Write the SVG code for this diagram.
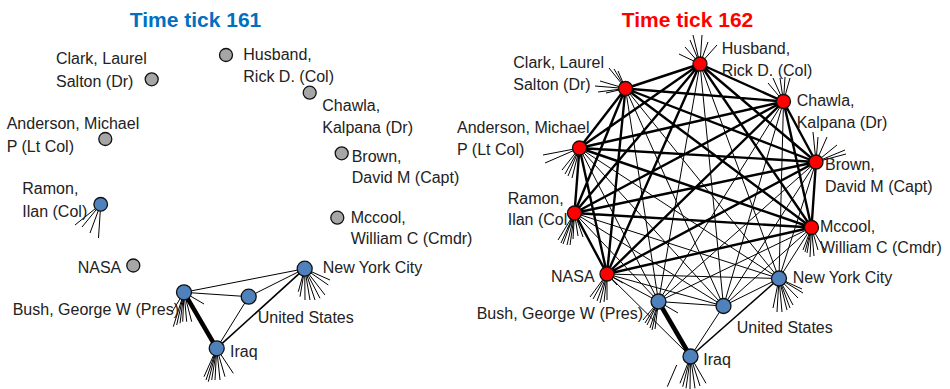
<svg xmlns="http://www.w3.org/2000/svg" width="950" height="389" viewBox="0 0 950 389">
<style>
.bg{fill:#ffffff}
.title{font-family:"Liberation Sans",Arial,sans-serif;font-size:21px;font-weight:bold;text-anchor:middle}
.lbl{font-family:"Liberation Sans",Arial,sans-serif;font-size:16px;fill:#222222}
.n{stroke:#111111;stroke-width:1.3}
.gray{fill:#A6A6A6}
.blue{fill:#4F81BD}
.red{fill:#FF0000}
.thin{stroke:#000;stroke-width:1;fill:none}
.med{stroke:#000;stroke-width:1.6;fill:none}
.thick{stroke:#000;stroke-width:2.4;fill:none}
.heavy{stroke:#000;stroke-width:4.5;fill:none}
.stub{stroke:#000;stroke-width:1;fill:none}
</style>
<rect class="bg" x="0" y="0" width="950" height="389"/>
<text class="title" x="195.5" y="27" fill="#0070C0">Time tick 161</text>
<text class="title" x="687.5" y="27" fill="#FF0000">Time tick 162</text>

<g id="connectors">
  <!-- left panel edges -->
  <g id="left-edges">
    <line class="thin" x1="184" y1="292.3" x2="304.7" y2="268.7"/>
    <line class="thin" x1="184" y1="292.3" x2="248.7" y2="296.7"/>
    <line class="thin" x1="248.7" y1="296.7" x2="304.7" y2="268.7"/>
    <line class="thin" x1="248.7" y1="296.7" x2="216.7" y2="348.3"/>
    <line class="med" x1="304.7" y1="268.7" x2="216.7" y2="348.3"/>
    <line class="heavy" x1="184" y1="292.3" x2="216.7" y2="348.3"/>
  </g>
  <g id="left-stubs">
    <path class="stub" d="M100.7,204.3L75,225M100.7,204.3L82,227M100.7,204.3L90,233M100.7,204.3L98.5,238"/>
    <path class="stub" d="M304.7,268.7L330,280M304.7,268.7L328.3,285M304.7,268.7L325,295M304.7,268.7L320,298.3M304.7,268.7L315,300M304.7,268.7L310,300M304.7,268.7L305,300M304.7,268.7L300,296.7M304.7,268.7L298.3,291.7"/>
    <path class="stub" d="M184,292.3L204,304M184,292.3L173.3,326.7M184,292.3L176.7,325M184,292.3L180,323.3M184,292.3L182.7,321.7M184,292.3L186.7,321.7M184,292.3L191.7,321.7M184,292.3L172,312"/>
    <path class="stub" d="M216.7,348.3L204,376.7M216.7,348.3L206,380M216.7,348.3L208.3,381.7M216.7,348.3L211.7,380M216.7,348.3L215,380M216.7,348.3L220,380M216.7,348.3L225,376.7M216.7,348.3L233.3,373.3"/>
  </g>
  <!-- right panel edges -->
  <g id="right-red-edges">
    <path class="thick" d="M700,64L625.5,88.5M700,64L783.5,101.5M700,64L579.5,148M700,64L816,162M700,64L574.5,213M700,64L811.5,227.5M700,64L607,274
    M625.5,88.5L783.5,101.5M625.5,88.5L579.5,148M625.5,88.5L816,162M625.5,88.5L574.5,213M625.5,88.5L811.5,227.5M625.5,88.5L607,274
    M783.5,101.5L579.5,148M783.5,101.5L816,162M783.5,101.5L574.5,213M783.5,101.5L811.5,227.5M783.5,101.5L607,274
    M579.5,148L816,162M579.5,148L574.5,213M579.5,148L811.5,227.5M579.5,148L607,274
    M816,162L574.5,213M816,162L811.5,227.5M816,162L607,274
    M574.5,213L811.5,227.5M574.5,213L607,274
    M811.5,227.5L607,274"/>
  </g>
  <g id="right-red-blue-edges">
    <path class="thin" d="M700,64L779,278.5M700,64L658.5,301.5M700,64L723.5,306
    M625.5,88.5L779,278.5M625.5,88.5L658.5,301.5M625.5,88.5L723.5,306
    M783.5,101.5L779,278.5M783.5,101.5L658.5,301.5M783.5,101.5L723.5,306
    M579.5,148L779,278.5M579.5,148L658.5,301.5M579.5,148L723.5,306
    M816,162L779,278.5M816,162L658.5,301.5M816,162L723.5,306
    M574.5,213L779,278.5M574.5,213L658.5,301.5M574.5,213L723.5,306
    M811.5,227.5L779,278.5M811.5,227.5L658.5,301.5M811.5,227.5L723.5,306
    M607,274L779,278.5M607,274L658.5,301.5M607,274L723.5,306M607,274L690.5,356.5"/>
  </g>
  <g id="right-blue-edges">
    <line class="thin" x1="658.5" y1="301.5" x2="723.5" y2="306"/>
    <line class="thin" x1="723.5" y1="306" x2="779" y2="278.5"/>
    <line class="thin" x1="723.5" y1="306" x2="690.5" y2="356.5"/>
    <line class="med" x1="779" y1="278.5" x2="690.5" y2="356.5"/>
    <line class="heavy" x1="658.5" y1="301.5" x2="690.5" y2="356.5"/>
  </g>
  <g id="right-stubs">
    <path class="stub" d="M700,64L679,54M700,64L685,47M700,64L690,40M700,64L693,35M700,64L702,35M700,64L708,42M700,64L717,45"/>
    <path class="stub" d="M625.5,88.5L595,86M625.5,88.5L598,92M625.5,88.5L606,93M625.5,88.5L609,68M625.5,88.5L614,69M625.5,88.5L618,71M625.5,88.5L600,81"/>
    <path class="stub" d="M783.5,101.5L763,92M783.5,101.5L768,83M783.5,101.5L773,78M783.5,101.5L780,78M783.5,101.5L785,77M783.5,101.5L790,78"/>
    <path class="stub" d="M816,162L813,132M816,162L818,137M816,162L827,137M816,162L837,145M816,162L845,150M816,162L846,154"/>
    <path class="stub" d="M579.5,148L543,155M579.5,148L545,163M579.5,148L562,170M579.5,148L565,174M579.5,148L568,176M579.5,148L572,178"/>
    <path class="stub" d="M574.5,213L558,240M574.5,213L561,243M574.5,213L563,244M574.5,213L567,245M574.5,213L570,245M574.5,213L573,239M574.5,213L578,236M574.5,213L583,237"/>
    <path class="stub" d="M811.5,227.5L803,250M811.5,227.5L805,252M811.5,227.5L807,253M811.5,227.5L810,257M811.5,227.5L814,256M811.5,227.5L818,250M811.5,227.5L825,250"/>
    <path class="stub" d="M607,274L590,297M607,274L593,299M607,274L597,301M607,274L600,303M607,274L604,302M607,274L607,300M607,274L617,285M607,274L623,283"/>
    <path class="stub" d="M779,278.5L803,293M779,278.5L802,289M779,278.5L798,298M779,278.5L793,305M779,278.5L790,308M779,278.5L787,310M779,278.5L782,312M779,278.5L777,312M779,278.5L773,308"/>
    <path class="stub" d="M658.5,301.5L678,313M658.5,301.5L643,320M658.5,301.5L645,323M658.5,301.5L647,325M658.5,301.5L650,328M658.5,301.5L652,330M658.5,301.5L655,329"/>
    <path class="stub" d="M690.5,356.5L680,383.3M690.5,356.5L682.7,386.7M690.5,356.5L686,388.3M690.5,356.5L690,389.3M690.5,356.5L695,388.3M690.5,356.5L700,386M690.5,356.5L706,383.3M676.7,365L667.3,386.7"/>
  </g>
</g>

<!-- left panel nodes -->
<g id="L-clark"><text class="lbl" x="56" y="64">Clark, Laurel</text><text class="lbl" x="56" y="86.7">Salton (Dr)</text><circle class="n gray" cx="151.7" cy="79.3" r="6.5"/></g>
<g id="L-husband"><text class="lbl" x="243.3" y="60">Husband,</text><text class="lbl" x="243.3" y="81.7">Rick D. (Col)</text><circle class="n gray" cx="226" cy="55" r="6.5"/></g>
<g id="L-chawla"><text class="lbl" x="322.3" y="111">Chawla,</text><text class="lbl" x="322.3" y="132.7">Kalpana (Dr)</text><circle class="n gray" cx="309.7" cy="92.7" r="6.5"/></g>
<g id="L-anderson"><text class="lbl" x="6.7" y="129">Anderson, Michael</text><text class="lbl" x="6.7" y="151.7">P (Lt Col)</text><circle class="n gray" cx="105.3" cy="139" r="6.5"/></g>
<g id="L-brown"><text class="lbl" x="351.7" y="161.7">Brown,</text><text class="lbl" x="351.7" y="183.3">David M (Capt)</text><circle class="n gray" cx="341.7" cy="153.3" r="6.5"/></g>
<g id="L-ramon"><text class="lbl" x="22.3" y="194">Ramon,</text><text class="lbl" x="22.3" y="216.7">Ilan (Col)</text><circle class="n blue" cx="100.7" cy="204.3" r="6.8"/></g>
<g id="L-mccool"><text class="lbl" x="350.7" y="222.7">Mccool,</text><text class="lbl" x="350.7" y="244">William C (Cmdr)</text><circle class="n gray" cx="337.3" cy="217.7" r="6.5"/></g>
<g id="L-nasa"><text class="lbl" x="77.7" y="272.7">NASA</text><circle class="n gray" cx="133.3" cy="265.5" r="6.5"/></g>
<g id="L-nyc"><text class="lbl" x="322.7" y="273.3">New York City</text><circle class="n blue" cx="304.7" cy="268.7" r="7.5"/></g>
<g id="L-bush"><text class="lbl" x="12.7" y="315">Bush, George W (Pres)</text><circle class="n blue" cx="184" cy="292.3" r="7.5"/></g>
<g id="L-us"><text class="lbl" x="257.7" y="323.3">United States</text><circle class="n blue" cx="248.7" cy="296.7" r="7.5"/></g>
<g id="L-iraq"><text class="lbl" x="230" y="356.7">Iraq</text><circle class="n blue" cx="216.7" cy="348.3" r="7.5"/></g>

<!-- right panel nodes -->
<g id="R-husband"><text class="lbl" x="721.7" y="54.3">Husband,</text><text class="lbl" x="721.7" y="76">Rick D. (Col)</text><circle class="n red" cx="700" cy="64" r="7"/></g>
<g id="R-clark"><text class="lbl" x="513.3" y="68.3">Clark, Laurel</text><text class="lbl" x="513.3" y="90">Salton (Dr)</text><circle class="n red" cx="625.5" cy="88.5" r="7"/></g>
<g id="R-chawla"><text class="lbl" x="796.7" y="106">Chawla,</text><text class="lbl" x="796.7" y="127.7">Kalpana (Dr)</text><circle class="n red" cx="783.5" cy="101.5" r="7"/></g>
<g id="R-anderson"><text class="lbl" x="457" y="133.3">Anderson, Michael</text><text class="lbl" x="457" y="155">P (Lt Col)</text><circle class="n red" cx="579.5" cy="148" r="7"/></g>
<g id="R-brown"><text class="lbl" x="825" y="170">Brown,</text><text class="lbl" x="825" y="191.7">David M (Capt)</text><circle class="n red" cx="816" cy="162" r="7"/></g>
<g id="R-ramon"><text class="lbl" x="507.7" y="204">Ramon,</text><text class="lbl" x="507.7" y="225">Ilan (Col)</text><circle class="n red" cx="574.5" cy="213" r="7"/></g>
<g id="R-mccool"><text class="lbl" x="820" y="231.7">Mccool,</text><text class="lbl" x="820" y="253.3">William C (Cmdr)</text><circle class="n red" cx="811.5" cy="227.5" r="7"/></g>
<g id="R-nasa"><text class="lbl" x="551" y="281.7">NASA</text><circle class="n red" cx="607" cy="274" r="7"/></g>
<g id="R-nyc"><text class="lbl" x="792.7" y="282.7">New York City</text><circle class="n blue" cx="779" cy="278.5" r="7.5"/></g>
<g id="R-bush"><text class="lbl" x="476.7" y="319.3">Bush, George W (Pres)</text><circle class="n blue" cx="658.5" cy="301.5" r="7.5"/></g>
<g id="R-us"><text class="lbl" x="736.7" y="332.7">United States</text><circle class="n blue" cx="723.5" cy="306" r="7.5"/></g>
<g id="R-iraq"><text class="lbl" x="703.3" y="365">Iraq</text><circle class="n blue" cx="690.5" cy="356.5" r="7.5"/></g>
</svg>
